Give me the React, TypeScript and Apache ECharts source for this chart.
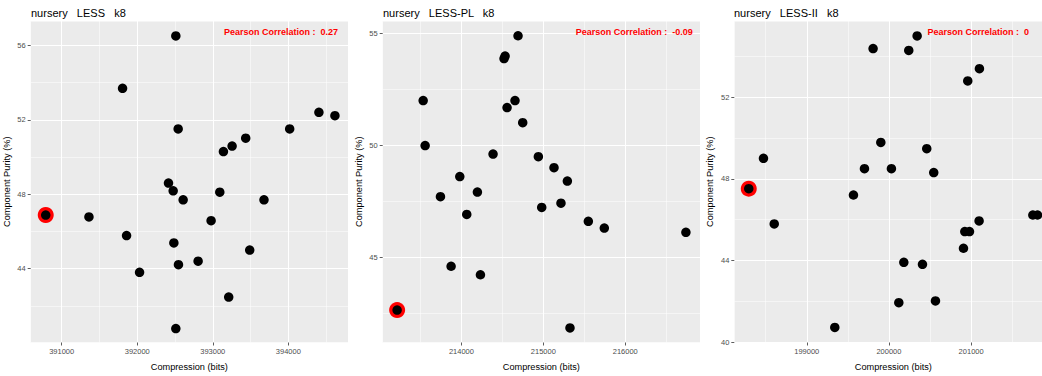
import React, { useEffect, useRef } from "react";
import * as echarts from "echarts";

// ---- data: panel 1 (LESS) ----
const lessX = [392511, 391806, 394405, 394617, 392542, 394018, 393436, 393256, 393141, 392414, 392476, 393093, 392608, 393678, 391361, 392978, 391859, 392485, 393489, 392806, 392546, 392031, 393211, 392511];
const lessY = [56.51, 53.69, 52.4, 52.22, 51.51, 51.51, 51.01, 50.59, 50.29, 48.6, 48.18, 48.11, 47.7, 47.7, 46.78, 46.58, 45.78, 45.38, 45.0, 44.4, 44.21, 43.8, 42.47, 40.78];
const lessBest = [390789, 46.88];

// ---- data: panel 2 (LESS-PL) ----
const plX = [214691, 214533, 214520, 213533, 214654, 214557, 214748, 213557, 214386, 214939, 215130, 213980, 215293, 214195, 213744, 215215, 214980, 214065, 215549, 215744, 216740, 213874, 214232, 215325];
const plY = [54.91, 54.0, 53.89, 52.01, 52.01, 51.7, 51.02, 50.0, 49.62, 49.5, 49.01, 48.61, 48.41, 47.92, 47.71, 47.42, 47.23, 46.92, 46.61, 46.31, 46.12, 44.6, 44.22, 41.84];
const plBest = [213215, 42.64];

// ---- data: panel 3 (LESS-II) ----
const iiX = [200343, 199807, 200241, 201101, 200959, 199901, 200460, 198473, 199702, 200030, 200545, 199568, 198604, 201751, 201808, 201097, 200923, 200980, 200907, 200181, 200408, 200120, 200566, 199341];
const iiY = [55.01, 54.39, 54.3, 53.4, 52.8, 49.79, 49.48, 49.01, 48.5, 48.5, 48.31, 47.21, 45.79, 46.23, 46.23, 45.94, 45.42, 45.42, 44.6, 43.91, 43.81, 41.93, 42.02, 40.72];
const iiBest = [198294, 47.52];

// ---- titles / annotations / ticks ----
const panelTitles = ["nursery   LESS   k8", "nursery   LESS-PL   k8", "nursery   LESS-II   k8"];
const correlations = ["Pearson Correlation :  0.27", "Pearson Correlation :  -0.09", "Pearson Correlation :  0"];
const xTicks = [
  [391000, 392000, 393000, 394000],
  [214000, 215000, 216000],
  [199000, 200000, 201000],
];
const yTicks = [
  [44, 48, 52, 56],
  [45, 50, 55],
  [40, 44, 48, 52],
];

const FONT = "'Liberation Sans', Arial, Helvetica, sans-serif";

export default function App() {
  const ref = useRef<HTMLDivElement>(null);

  useEffect(() => {
    if (!ref.current) return;
    const chart = echarts.init(ref.current, null, { renderer: "svg" });

    const panels = [
      { xs: lessX, ys: lessY, best: lessBest, left: 30.7, width: 317.3, xMin: 390590, xMax: 394790, yMin: 40.03, yMax: 57.31, xi: 1000, yi: 4 },
      { xs: plX, ys: plY, best: plBest, left: 382.7, width: 317.3, xMin: 213039, xMax: 216912, yMin: 41.19, yMax: 55.57, xi: 1000, yi: 5 },
      { xs: iiX, ys: iiY, best: iiBest, left: 734.3, width: 318.1, xMin: 198118, xMax: 201989, yMin: 39.98, yMax: 55.74, xi: 1000, yi: 4 },
    ];

    const grid: any[] = [];
    const xAxis: any[] = [];
    const yAxis: any[] = [];
    const series: any[] = [];
    const graphic: any[] = [];

    const titleX = [31, 383, 734];
    const corrX = [338, 692.7, 1029];

    panels.forEach((p, i) => {
      grid.push({ left: p.left, top: 21, width: p.width, height: 325, show: true, backgroundColor: "#EBEBEB", borderWidth: 0 });
      // major x
      xAxis.push({
        type: "value", gridIndex: i, min: p.xMin, max: p.xMax, minInterval: p.xi, maxInterval: p.xi,
        axisLine: { show: false },
        axisTick: { show: true, length: 3, lineStyle: { color: "#333333", width: 0.8 }, customValues: xTicks[i] },
        axisLabel: { show: true, customValues: xTicks[i], fontSize: 7.5, color: "#4D4D4D", fontFamily: FONT, margin: 5, formatter: (v: number) => String(v) },
        splitLine: { show: true, lineStyle: { color: "#FFFFFF", width: 1 } },
        name: "Compression (bits)", nameLocation: "middle", nameGap: 19.5,
        nameTextStyle: { fontSize: 9.2, color: "#000000", fontFamily: FONT },
        z: 2,
      });
      // minor x
      xAxis.push({
        type: "value", gridIndex: i, min: p.xMin, max: p.xMax, minInterval: p.xi / 2, maxInterval: p.xi / 2,
        axisLine: { show: false }, axisTick: { show: false }, axisLabel: { show: false },
        splitLine: { show: true, lineStyle: { color: "#FFFFFF", width: 0.5 } },
        z: 1,
      });
      // major y
      yAxis.push({
        type: "value", gridIndex: i, min: p.yMin, max: p.yMax, minInterval: p.yi, maxInterval: p.yi,
        axisLine: { show: false },
        axisTick: { show: true, length: 3, lineStyle: { color: "#333333", width: 0.8 }, customValues: yTicks[i] },
        axisLabel: { show: true, customValues: yTicks[i], fontSize: 7.5, color: "#4D4D4D", fontFamily: FONT, margin: 5, formatter: (v: number) => String(v) },
        splitLine: { show: true, lineStyle: { color: "#FFFFFF", width: 1 } },
        name: "Component Purity (%)", nameLocation: "middle", nameGap: 19.5,
        nameTextStyle: { fontSize: 9.2, color: "#000000", fontFamily: FONT },
        z: 2,
      });
      // minor y
      yAxis.push({
        type: "value", gridIndex: i, min: p.yMin, max: p.yMax, minInterval: p.yi / 2, maxInterval: p.yi / 2,
        axisLine: { show: false }, axisTick: { show: false }, axisLabel: { show: false },
        splitLine: { show: true, lineStyle: { color: "#FFFFFF", width: 0.5 } },
        z: 1,
      });

      series.push({
        type: "scatter", xAxisIndex: 2 * i, yAxisIndex: 2 * i, symbol: "circle", symbolSize: 16,
        itemStyle: { color: "#FF0000", opacity: 1 }, data: [p.best], z: 3, silent: true,
      });
      series.push({
        type: "scatter", xAxisIndex: 2 * i, yAxisIndex: 2 * i, symbol: "circle", symbolSize: 9.5,
        itemStyle: { color: "#000000", opacity: 1 }, data: [...p.xs.map((x, k) => [x, p.ys[k]]), p.best], z: 4, silent: true,
      });

      graphic.push({
        type: "text", x: titleX[i], y: 12.5,
        style: { text: panelTitles[i], fill: "#000000", font: `11px ${FONT}`, textAlign: "left", textVerticalAlign: "middle" },
      });
      graphic.push({
        type: "text", x: corrX[i], y: 32.3, z: 10,
        style: { text: correlations[i], fill: "#FF0000", font: `bold 9px ${FONT}`, textAlign: "right", textVerticalAlign: "middle" },
      });
    });

    chart.setOption({
      animation: false,
      backgroundColor: "#FFFFFF",
      textStyle: { fontFamily: FONT },
      grid, xAxis, yAxis, series, graphic,
    });

    return () => chart.dispose();
  }, []);

  return (
    <div style={{ position: "absolute", left: 0, top: 0, width: 1042, height: 376, overflow: "hidden", background: "#fff" }}>
      <div ref={ref} style={{ width: 1060, height: 376 }} />
    </div>
  );
}
